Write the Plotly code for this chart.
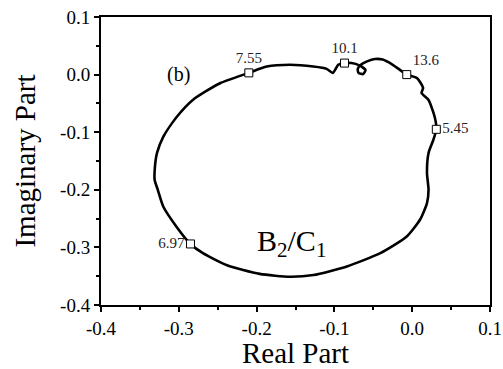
import plotly.graph_objects as go

# curve (real, imaginary), traced clockwise from the 7.55 point
real_part = [-0.210, -0.187, -0.157, -0.127, -0.110, -0.102, -0.095, -0.087, -0.078, -0.068,
             -0.060, -0.063, -0.069, -0.070, -0.066, -0.058, -0.048, -0.038, -0.025, -0.007,
             0.006, 0.014, 0.012, 0.021, 0.029, 0.031, 0.027, 0.021, 0.019, 0.021,
             0.019, 0.010, -0.007, -0.041, -0.084, -0.127, -0.157, -0.196, -0.238, -0.269,
             -0.285, -0.303, -0.320, -0.327, -0.331, -0.331, -0.328, -0.320, -0.303, -0.282,
             -0.247, -0.210]
imag_part = [0.003, 0.014, 0.017, 0.014, 0.010, 0.003, 0.017, 0.020, 0.020, 0.016,
             0.008, 0.001, 0.003, 0.010, 0.017, 0.023, 0.027, 0.026, 0.017, 0.000,
             -0.006, -0.023, -0.032, -0.044, -0.074, -0.095, -0.114, -0.136, -0.171, -0.200,
             -0.223, -0.252, -0.281, -0.310, -0.333, -0.348, -0.351, -0.346, -0.331, -0.310,
             -0.294, -0.264, -0.229, -0.200, -0.183, -0.166, -0.136, -0.108, -0.074, -0.044,
             -0.015, 0.003]

mark_real = [-0.210, -0.087, -0.007, 0.031, -0.285]
mark_imag = [0.003, 0.020, 0.000, -0.095, -0.294]
mark_text = ['7.55', '10.1', '13.6', '5.45', '6.97']
text_pos = ['top center', 'top center', 'top right', 'middle right', 'middle left']

tick_vals = [-0.4, -0.3, -0.2, -0.1, 0.0, 0.1]
tick_text = ['-0.4', '-0.3', '-0.2', '-0.1', '0.0', '0.1']

serif = 'Liberation Serif, Times New Roman, serif'

fig = go.Figure()
fig.add_trace(go.Scatter(x=real_part, y=imag_part, mode='lines',
                         line=dict(color='black', width=2.6, shape='spline', smoothing=0.6),
                         hoverinfo='skip'))
fig.add_trace(go.Scatter(x=mark_real, y=mark_imag, mode='markers+text',
                         text=mark_text, textposition=text_pos,
                         textfont=dict(family=serif, size=15, color='#222'),
                         marker=dict(symbol='square', size=8, color='white',
                                     line=dict(color='black', width=1))))

fig.add_annotation(x=-0.3, y=0.0, text='(b)', showarrow=False, xanchor='center',
                   font=dict(family=serif, size=20, color='black'))
fig.add_annotation(x=-0.155, y=-0.292, text='B<sub>2</sub>/C<sub>1</sub>', showarrow=False,
                   font=dict(family=serif, size=30, color='black'))

axis_style = dict(showgrid=False, zeroline=False, showline=True, mirror=True,
                  linecolor='black', linewidth=2, ticks='outside', ticklen=5,
                  tickwidth=2, tickcolor='black', automargin=False,
                  tickvals=tick_vals, ticktext=tick_text, ticklabeloverflow='allow',
                  tickfont=dict(family=serif, size=19, color='black'),
                  minor=dict(ticks='outside', ticklen=3, tickwidth=2,
                             tickcolor='black', dtick=0.05, tick0=-0.4))

fig.update_layout(
    width=503, height=369, showlegend=False,
    plot_bgcolor='white', paper_bgcolor='white',
    margin=dict(l=101, r=13, t=17, b=64, autoexpand=False),
    xaxis=dict(range=[-0.4, 0.1],
               title=dict(text='Real Part', standoff=9,
                          font=dict(family=serif, size=29, color='black')),
               **axis_style),
    yaxis=dict(range=[-0.4, 0.1],
               title=dict(text='Imaginary Part', standoff=16,
                          font=dict(family=serif, size=29, color='black')),
               **axis_style),
)

# drop the default page margin so the figure sits flush in the window
fig.write_html("out.html", config={'displayModeBar': False},
               post_script="document.body.style.margin='0';document.body.style.overflow='hidden';")
